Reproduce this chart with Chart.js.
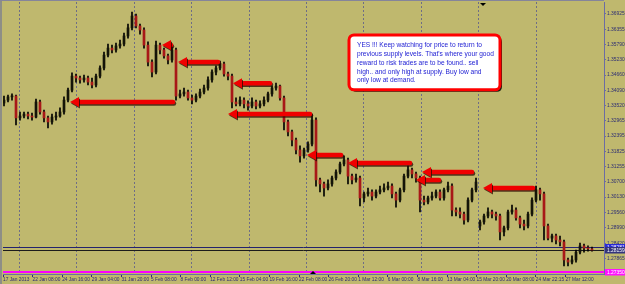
<!DOCTYPE html>
<html>
<head>
<meta charset="utf-8">
<script src="https://cdn.jsdelivr.net/npm/chart.js@4.4.0/dist/chart.umd.min.js"></script>
<style>
  html, body { margin: 0; padding: 0; background: #bfb86e; }
</style>
</head>
<body>
<canvas id="myChart" width="625" height="284"></canvas>
<script>
// EURUSD H4, 17 Jan - 27 Mar 2013
const opens = [
  1.3362, 1.3373, 1.3385, 1.3388, 1.3307, 1.3314, 1.3321, 1.3314, 1.3310, 1.3366,
  1.3329, 1.3307, 1.3292, 1.3310, 1.3314, 1.3329, 1.3373, 1.3410, 1.3462, 1.3455,
  1.3448, 1.3455, 1.3440, 1.3429, 1.3462, 1.3492, 1.3540, 1.3566, 1.3559, 1.3574,
  1.3581, 1.3611, 1.3641, 1.3685, 1.3648, 1.3633, 1.3577, 1.3514, 1.3477, 1.3577,
  1.3559, 1.3537, 1.3522, 1.3559, 1.3388, 1.3396, 1.3403, 1.3381, 1.3373, 1.3388,
  1.3403, 1.3418, 1.3448, 1.3477, 1.3492, 1.3507, 1.3470, 1.3462, 1.3366, 1.3359,
  1.3373, 1.3359, 1.3351, 1.3366, 1.3351, 1.3359, 1.3373, 1.3396, 1.3418, 1.3425,
  1.3381, 1.3292, 1.3255, 1.3225, 1.3188, 1.3166, 1.3188, 1.3210, 1.3299, 1.3077,
  1.3062, 1.3047, 1.3062, 1.3084, 1.3106, 1.3136, 1.3151, 1.3091, 1.3077, 1.3084,
  1.3010, 1.3025, 1.3032, 1.3017, 1.3032, 1.3040, 1.3047, 1.3054, 1.3025, 1.3002,
  1.3040, 1.3091, 1.3114, 1.3099, 1.3084, 1.3002, 1.2995, 1.3010, 1.3017, 1.3032,
  1.3010, 1.3040, 1.3054, 1.2965, 1.2958, 1.2950, 1.2928, 1.3002, 1.3040, 1.2906,
  1.2921, 1.2943, 1.2958, 1.2950, 1.2943, 1.2884, 1.2899, 1.2958, 1.2965, 1.2936,
  1.2913, 1.2906, 1.2950, 1.3002, 1.3040, 1.3025, 1.2906, 1.2861, 1.2869, 1.2854,
  1.2847, 1.2780, 1.2772, 1.2780, 1.2809, 1.2832, 1.2824, 1.2821
];
const highs = [
  1.3388, 1.3392, 1.3396, 1.3392, 1.3329, 1.3329, 1.3329, 1.3325, 1.3377, 1.3373,
  1.3336, 1.3314, 1.3321, 1.3329, 1.3344, 1.3385, 1.3418, 1.3474, 1.3470, 1.3462,
  1.3466, 1.3462, 1.3455, 1.3470, 1.3500, 1.3551, 1.3581, 1.3577, 1.3585, 1.3596,
  1.3622, 1.3655, 1.3700, 1.3692, 1.3655, 1.3641, 1.3589, 1.3522, 1.3592, 1.3585,
  1.3566, 1.3544, 1.3574, 1.3566, 1.3410, 1.3418, 1.3410, 1.3392, 1.3396, 1.3414,
  1.3429, 1.3459, 1.3485, 1.3500, 1.3518, 1.3514, 1.3477, 1.3470, 1.3381, 1.3385,
  1.3381, 1.3370, 1.3381, 1.3373, 1.3370, 1.3385, 1.3403, 1.3425, 1.3436, 1.3429,
  1.3388, 1.3299, 1.3262, 1.3232, 1.3203, 1.3195, 1.3218, 1.3321, 1.3307, 1.3084,
  1.3069, 1.3077, 1.3091, 1.3114, 1.3143, 1.3166, 1.3158, 1.3099, 1.3099, 1.3091,
  1.3032, 1.3047, 1.3040, 1.3040, 1.3054, 1.3062, 1.3069, 1.3062, 1.3032, 1.3047,
  1.3099, 1.3129, 1.3121, 1.3106, 1.3091, 1.3017, 1.3017, 1.3032, 1.3040, 1.3040,
  1.3047, 1.3069, 1.3062, 1.2973, 1.2973, 1.2958, 1.3010, 1.3047, 1.3084, 1.2928,
  1.2950, 1.2973, 1.2965, 1.2958, 1.2950, 1.2906, 1.2965, 1.2984, 1.2973, 1.2943,
  1.2928, 1.2958, 1.3010, 1.3054, 1.3047, 1.3032, 1.2913, 1.2876, 1.2876, 1.2869,
  1.2854, 1.2787, 1.2795, 1.2817, 1.2843, 1.2839, 1.2832, 1.2828
];
const lows = [
  1.3351, 1.3366, 1.3373, 1.3281, 1.3299, 1.3307, 1.3303, 1.3299, 1.3307, 1.3321,
  1.3292, 1.3270, 1.3284, 1.3299, 1.3310, 1.3321, 1.3366, 1.3403, 1.3440, 1.3436,
  1.3440, 1.3429, 1.3418, 1.3422, 1.3455, 1.3485, 1.3533, 1.3548, 1.3551, 1.3566,
  1.3574, 1.3603, 1.3633, 1.3641, 1.3618, 1.3566, 1.3500, 1.3459, 1.3470, 1.3544,
  1.3529, 1.3507, 1.3514, 1.3373, 1.3381, 1.3388, 1.3373, 1.3359, 1.3366, 1.3381,
  1.3396, 1.3410, 1.3440, 1.3466, 1.3485, 1.3462, 1.3448, 1.3344, 1.3351, 1.3351,
  1.3344, 1.3336, 1.3344, 1.3340, 1.3344, 1.3351, 1.3366, 1.3388, 1.3410, 1.3373,
  1.3262, 1.3240, 1.3203, 1.3173, 1.3143, 1.3158, 1.3180, 1.3203, 1.3054, 1.3032,
  1.3017, 1.3040, 1.3054, 1.3077, 1.3099, 1.3129, 1.3062, 1.3062, 1.3069, 1.2980,
  1.2995, 1.3017, 1.3002, 1.3010, 1.3025, 1.3032, 1.3040, 1.3010, 1.2976, 1.2995,
  1.3032, 1.3084, 1.3084, 1.3069, 1.2958, 1.2984, 1.2988, 1.3002, 1.3010, 1.3002,
  1.3002, 1.3032, 1.2943, 1.2943, 1.2936, 1.2913, 1.2921, 1.2995, 1.3032, 1.2891,
  1.2913, 1.2936, 1.2936, 1.2928, 1.2854, 1.2869, 1.2891, 1.2950, 1.2928, 1.2899,
  1.2891, 1.2899, 1.2943, 1.2995, 1.3002, 1.2854, 1.2854, 1.2847, 1.2839, 1.2832,
  1.2758, 1.2758, 1.2765, 1.2772, 1.2802, 1.2809, 1.2813, 1.2813
];
const closes = [
  1.3373, 1.3385, 1.3388, 1.3307, 1.3314, 1.3321, 1.3314, 1.3310, 1.3366, 1.3329,
  1.3307, 1.3292, 1.3310, 1.3314, 1.3329, 1.3373, 1.3410, 1.3462, 1.3455, 1.3448,
  1.3455, 1.3440, 1.3429, 1.3462, 1.3492, 1.3540, 1.3566, 1.3559, 1.3574, 1.3581,
  1.3611, 1.3641, 1.3685, 1.3648, 1.3633, 1.3577, 1.3514, 1.3477, 1.3577, 1.3559,
  1.3537, 1.3522, 1.3559, 1.3388, 1.3396, 1.3403, 1.3381, 1.3373, 1.3388, 1.3403,
  1.3418, 1.3448, 1.3477, 1.3492, 1.3507, 1.3470, 1.3462, 1.3366, 1.3359, 1.3373,
  1.3359, 1.3351, 1.3366, 1.3351, 1.3359, 1.3373, 1.3396, 1.3418, 1.3425, 1.3381,
  1.3292, 1.3255, 1.3225, 1.3188, 1.3166, 1.3188, 1.3210, 1.3299, 1.3077, 1.3062,
  1.3047, 1.3062, 1.3084, 1.3106, 1.3136, 1.3151, 1.3091, 1.3077, 1.3084, 1.3010,
  1.3025, 1.3032, 1.3017, 1.3032, 1.3040, 1.3047, 1.3054, 1.3025, 1.3002, 1.3040,
  1.3091, 1.3114, 1.3099, 1.3084, 1.3002, 1.2995, 1.3010, 1.3017, 1.3032, 1.3010,
  1.3040, 1.3054, 1.2965, 1.2958, 1.2950, 1.2928, 1.3002, 1.3040, 1.3069, 1.2921,
  1.2943, 1.2958, 1.2950, 1.2943, 1.2884, 1.2899, 1.2958, 1.2965, 1.2936, 1.2913,
  1.2906, 1.2950, 1.3002, 1.3040, 1.3025, 1.2906, 1.2861, 1.2869, 1.2854, 1.2847,
  1.2780, 1.2772, 1.2780, 1.2809, 1.2832, 1.2824, 1.2821, 1.2817
];

const xLabels = ['17 Jan 2013', '22 Jan 08:00', '24 Jan 16:00', '29 Jan 04:00', '31 Jan 20:00',
  '5 Feb 08:00', '8 Feb 00:00', '12 Feb 12:00', '15 Feb 04:00', '19 Feb 16:00',
  '22 Feb 08:00', '26 Feb 20:00', '1 Mar 12:00', '6 Mar 00:00', '8 Mar 16:00',
  '13 Mar 04:00', '15 Mar 20:00', '20 Mar 08:00', '24 Mar 22:15', '27 Mar 12:00'];
const yLabels = ['1.36925', '1.36355', '1.35790', '1.35230', '1.34660', '1.34090', '1.33520',
  '1.32965', '1.32395', '1.31825', '1.31255', '1.30700', '1.30130', '1.29560', '1.28990',
  '1.28420', '1.27865'];

// price lines on the right
const askPrice = 1.28281;
const bidPrice = 1.28159;
const alertPrice = 1.27350;

// supply-level arrows: tail bar, tip bar, price
const arrowTail = [42.75, 42.25, 54, 67, 77, 84.75, 102, 117.5, 109.25, 132.75];
const arrowTip = [16.5, 39.5, 43.5, 57.25, 56, 75.75, 86, 104.5, 103, 119.75];
const arrowPrice = [1.3366, 1.3577, 1.3514, 1.3436, 1.3321, 1.3169, 1.3140, 1.3106, 1.3077, 1.3047];

const noteLines = [
  'YES !!! Keep watching for price to return to',
  "previous supply levels. That's where your good",
  'reward to risk trades are to be found.. sell',
  'high.. and only high at supply. Buy low and',
  'only low at demand.'
];

const BG = '#bfb86e';
const AXIS = '#6c6ca4';
const LABEL = '#2c2c74';

Chart.defaults.font.family = '"Liberation Sans", Arial, sans-serif';

const idx = closes.map((_, i) => i);

const overlay = {
  id: 'overlay',
  beforeDraw(chart) {
    const c = chart.ctx;
    c.save();
    c.fillStyle = BG;
    c.fillRect(0, 0, chart.width, chart.height);
    c.fillStyle = '#8e8e86';
    c.fillRect(0, 0, 2, chart.height);
    c.fillStyle = '#85859a';
    c.fillRect(0, 0, chart.width - 21, 1);
    c.restore();
  },
  beforeDatasetsDraw(chart) {
    const { ctx: c, chartArea: a, scales: { y } } = chart;
    c.save();
    const lines = [[askPrice, '#23236e', 1], [bidPrice, '#1c1c1c', 1], [alertPrice, '#ff00ff', 2]];
    lines.forEach(([v, col, w]) => {
      const py = Math.round(y.getPixelForValue(v)) + (w === 1 ? 0.5 : 0);
      c.strokeStyle = col;
      c.lineWidth = w;
      c.beginPath();
      c.moveTo(a.left, py);
      c.lineTo(a.right, py);
      c.stroke();
    });
    c.restore();
  },
  afterDatasetsDraw(chart) {
    const { ctx: c, chartArea: a, scales: { x, y } } = chart;
    c.save();
    // arrows
    c.shadowColor = 'rgba(40,10,0,0.75)';
    c.shadowOffsetX = 1;
    c.shadowOffsetY = 1.5;
    c.fillStyle = '#f00000';
    c.strokeStyle = '#f00000';
    arrowPrice.forEach((p, k) => {
      const py = y.getPixelForValue(p);
      const tip = x.getPixelForValue(arrowTip[k]);
      const tail = x.getPixelForValue(arrowTail[k]);
      c.lineWidth = 4.5;
      c.lineCap = 'round';
      c.beginPath();
      c.moveTo(tail - 2, py);
      c.lineTo(tip + 7, py);
      c.stroke();
      c.beginPath();
      c.moveTo(tip, py);
      c.lineTo(tip + 9, py - 5);
      c.lineTo(tip + 9, py + 5);
      c.closePath();
      c.fill();
    });
    c.shadowColor = 'transparent';

    // note box
    const bx0 = x.getPixelForValue(86.25), bx1 = x.getPixelForValue(124);
    const by0 = y.getPixelForValue(1.3615), by1 = y.getPixelForValue(1.3411);
    const rr = (px, py, w, h, r) => {
      c.beginPath();
      c.moveTo(px + r, py);
      c.arcTo(px + w, py, px + w, py + h, r);
      c.arcTo(px + w, py + h, px, py + h, r);
      c.arcTo(px, py + h, px, py, r);
      c.arcTo(px, py, px + w, py, r);
      c.closePath();
    };
    c.fillStyle = '#1e1e10';
    rr(bx0 + 2, by0 + 2, bx1 - bx0, by1 - by0, 5);
    c.fill();
    c.fillStyle = '#ffffff';
    rr(bx0, by0, bx1 - bx0, by1 - by0, 5);
    c.fill();
    c.strokeStyle = '#ff0000';
    c.lineWidth = 3;
    c.stroke();
    c.font = '7px "Liberation Sans"';
    const fs = 7 * 137 / c.measureText(noteLines[1]).width;
    c.font = fs.toFixed(2) + 'px "Liberation Sans"';
    c.fillStyle = '#2222d4';
    c.textBaseline = 'middle';
    noteLines.forEach((t, k) => c.fillText(t, bx0 + 8, by0 + 10.5 + k * 8.8));

    // period markers
    c.fillStyle = '#000';
    const mt = x.getPixelForValue(119.75);
    c.beginPath();
    c.moveTo(mt - 3, a.top + 1); c.lineTo(mt + 3, a.top + 1); c.lineTo(mt, a.top + 4);
    c.fill();
    const mb = x.getPixelForValue(77.25);
    c.beginPath();
    c.moveTo(mb - 3, a.bottom); c.lineTo(mb + 3, a.bottom); c.lineTo(mb, a.bottom - 3);
    c.fill();
    c.restore();
  },
  afterDraw(chart) {
    const { ctx: c, chartArea: a, scales: { y } } = chart;
    c.save();
    c.font = '4.9px "Liberation Sans"';
    c.textBaseline = 'middle';
    const boxes = [[askPrice, '#2a2ad8', '1.28281'], [bidPrice, '#34347c', '1.28159'], [alertPrice, '#ff10ff', '1.27350']];
    boxes.forEach(([v, col, t]) => {
      const py = Math.round(y.getPixelForValue(v));
      c.fillStyle = col;
      c.fillRect(a.right + 1, py - 3, 21, 6.5);
      c.fillStyle = '#ffffff';
      c.fillText(t, a.right + 3, py + 0.5);
    });
    c.restore();
  }
};

const ctx = document.getElementById('myChart').getContext('2d');
const myChart = new Chart(ctx, {
  type: 'bar',
  data: {
    datasets: [{
      label: 'body',
      data: idx.map(i => ({ x: i, y: [opens[i], closes[i]] })),
      backgroundColor: idx.map(i => closes[i] >= opens[i] ? '#141408' : '#a81818'),
      borderWidth: 0,
      barThickness: 2,
      minBarLength: 1,
      grouped: false
    }, {
      label: 'wick',
      data: idx.map(i => ({ x: i, y: [lows[i], highs[i]] })),
      backgroundColor: '#000000',
      borderWidth: 0,
      barThickness: 1,
      grouped: false
    }]
  },
  options: {
    responsive: false,
    animation: false,
    layout: { padding: { left: 3, top: 2, right: 0, bottom: 0 } },
    plugins: { legend: { display: false }, tooltip: { enabled: false } },
    scales: {
      x: {
        type: 'linear',
        min: -0.25,
        max: 150,
        offset: false,
        afterBuildTicks: s => { s.ticks = xLabels.map((_, k) => ({ value: -0.25 + 7.4 * k })); },
        afterFit: s => { s.height = 10; s.paddingLeft = 0; s.paddingRight = 0; },
        grid: { drawOnChartArea: false, offset: false, tickLength: 3, color: LABEL },
        border: { display: true, color: AXIS },
        ticks: {
          autoSkip: false, maxRotation: 0, align: 'start', padding: 0,
          color: LABEL, font: { size: 4.8 },
          callback: (v, i) => xLabels[i]
        }
      },
      sep: {
        type: 'linear',
        position: 'bottom',
        min: -0.25,
        max: 150,
        offset: false,
        afterBuildTicks: s => { s.ticks = Array.from({ length: 10 }, (_, k) => ({ value: 3.875 + 14.35 * k })); },
        afterFit: s => { s.height = 0; s.paddingLeft = 0; s.paddingRight = 0; },
        grid: { drawTicks: false, offset: false, color: 'rgba(90,90,140,0.8)', lineWidth: 1 },
        border: { display: false, dash: [2, 2] },
        ticks: { display: false }
      },
      y: {
        type: 'linear',
        position: 'right',
        min: 1.272786,
        max: 1.373698,
        afterBuildTicks: s => { s.ticks = yLabels.map(t => ({ value: parseFloat(t) })); },
        afterFit: s => { s.width = 21; s.paddingTop = 0; s.paddingBottom = 0; },
        grid: { drawOnChartArea: false, tickLength: 2, color: AXIS },
        border: { display: true, color: AXIS },
        ticks: {
          padding: 1, color: LABEL, font: { size: 4.9 },
          callback: (v, i) => yLabels[i]
        }
      }
    }
  },
  plugins: [overlay]
});
</script>
</body>
</html>
